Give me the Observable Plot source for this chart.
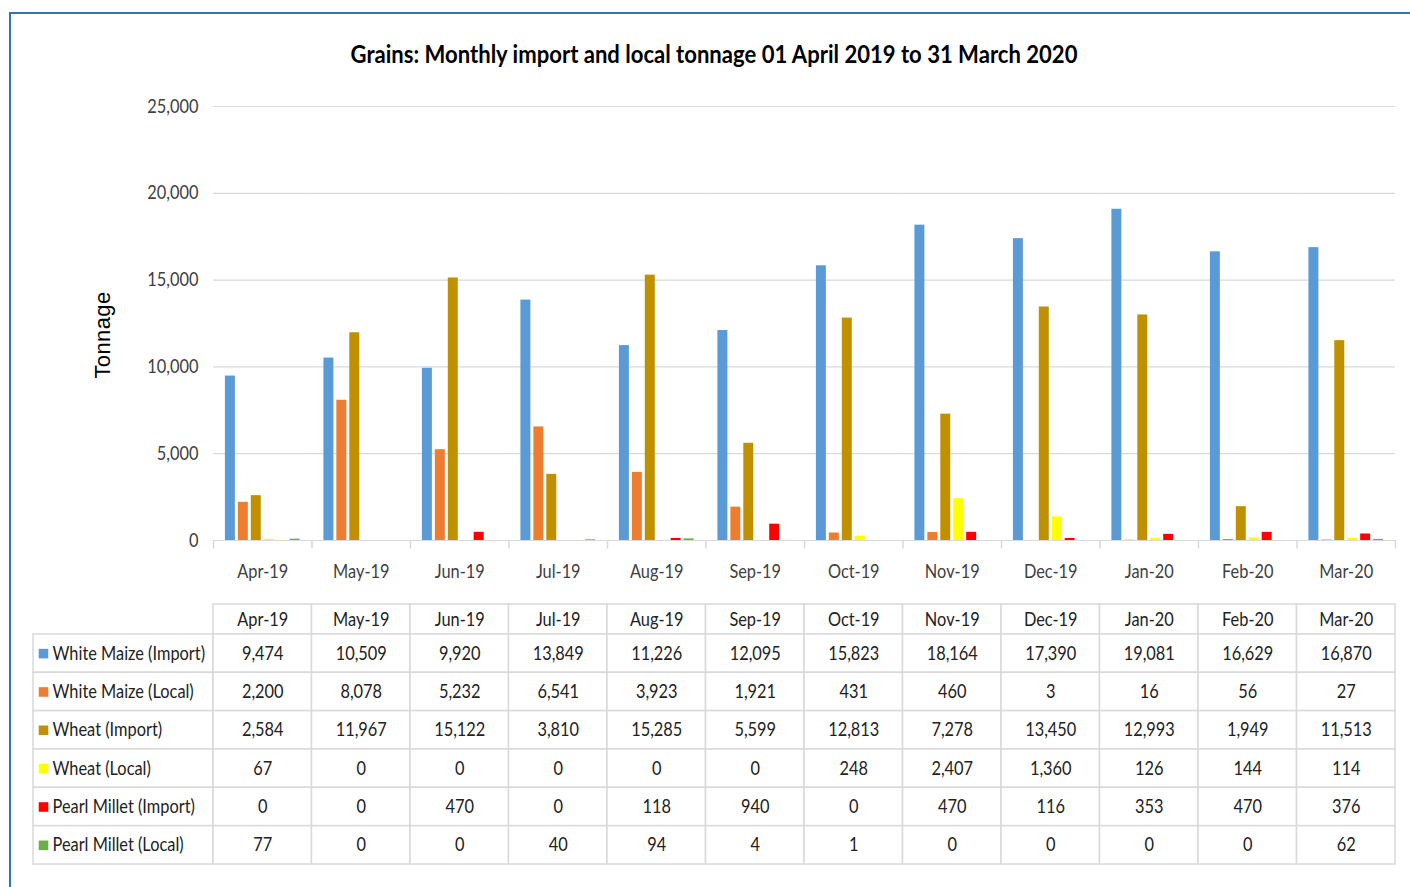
<!DOCTYPE html>
<html>
<head>
<meta charset="utf-8">
<script src="https://cdn.jsdelivr.net/npm/d3@7"></script>
<script src="https://cdn.jsdelivr.net/npm/@observablehq/plot@0.6"></script>
<style>
  html, body { margin: 0; padding: 0; background: #fff; }
  #page { position: relative; width: 1410px; height: 887px; overflow: hidden; background: #fff;
    font-family: Lato, "Open Sans", sans-serif; }
  #frame { position: absolute; left: 9px; top: 12px; width: 1500px; height: 1000px;
    border-left: 2px solid #2e75b6; border-top: 2px solid #2e75b6; }
  #title { position: absolute; left: 714px; top: 38px; transform-origin: 50% 50%;
    font-size: 25px; font-weight: bold; color: #000; white-space: nowrap; line-height: 30px; }
  #ylabel { position: absolute; left: 103px; top: 335px; transform: translate(-50%, -50%) rotate(-90deg);
    font-family: "Liberation Sans", sans-serif; font-size: 22px; color: #000; white-space: nowrap; letter-spacing: 0.4px; }
  .probe { position: absolute; left: 0; top: 0; visibility: hidden; white-space: nowrap;
    font-family: Lato, "Open Sans", sans-serif; font-size: 19px; }
  #page svg { position: absolute; left: 0; }
</style>
</head>
<body>
<div id="page">
  <div id="frame"></div>
  <div id="title">Grains: Monthly import and local tonnage 01 April 2019 to 31 March 2020</div>
  <div id="ylabel">Tonnage</div>
  <span class="probe" id="probe1">White Maize (Import)</span>
  <span class="probe" id="probe2">25,000</span>
</div>
<script>
const months = ["Apr-19","May-19","Jun-19","Jul-19","Aug-19","Sep-19","Oct-19","Nov-19","Dec-19","Jan-20","Feb-20","Mar-20"];
const seriesNames = ["White Maize (Import)","White Maize (Local)","Wheat (Import)","Wheat (Local)","Pearl Millet (Import)","Pearl Millet (Local)"];
const seriesColors = ["#5b9bd5","#ed7d31","#bf9000","#ffff00","#ff0000","#70ad47"];
const whiteMaizeImport = [9474,10509,9920,13849,11226,12095,15823,18164,17390,19081,16629,16870];
const whiteMaizeLocal  = [2200,8078,5232,6541,3923,1921,431,460,3,16,56,27];
const wheatImport      = [2584,11967,15122,3810,15285,5599,12813,7278,13450,12993,1949,11513];
const wheatLocal       = [67,0,0,0,0,0,248,2407,1360,126,144,114];
const pearlMilletImport= [0,0,470,0,118,940,0,470,116,353,470,376];
const pearlMilletLocal = [77,0,0,40,94,4,1,0,0,0,0,62];
const yTicks = [0,5000,10000,15000,20000,25000];

const seriesValues = [whiteMaizeImport, whiteMaizeLocal, wheatImport, wheatLocal, pearlMilletImport, pearlMilletLocal];
const rows = [];
seriesNames.forEach((s, si) => months.forEach((m, mi) => rows.push({series: s, si, month: m, mi, value: seriesValues[si][mi]})));

const FONT = 'Lato, "Open Sans", sans-serif';
const FS = 19;
const GRID = "#d9d9d9";
const page = document.getElementById("page");

// horizontal condensing so the text matches the narrow original face
const w1 = document.getElementById("probe1").getBoundingClientRect().width;
const w2 = document.getElementById("probe2").getBoundingClientRect().width;
let K = (156 / w1 + 50 / w2) / 2;
if (!isFinite(K) || K <= 0.5 || K > 1.5) K = 0.85;
function condense(svg, k) {
  svg.querySelectorAll("text").forEach(t => {
    const len = t.getComputedTextLength();
    if (len > 0) {
      t.setAttribute("textLength", (len * k).toFixed(2));
      t.setAttribute("lengthAdjust", "spacingAndGlyphs");
    }
  });
}

// Chart
const chart = Plot.plot({
  width: 1410, height: 548,
  marginLeft: 213, marginRight: 15, marginTop: 106, marginBottom: 8,
  style: {fontFamily: FONT, fontSize: FS + "px", color: "#404040", background: "transparent", overflow: "visible"},
  fx: {domain: months, paddingInner: 0, paddingOuter: 0, axis: null, round: false},
  x: {domain: seriesNames, paddingInner: 0.23, paddingOuter: 0.92, axis: null, round: false},
  y: {domain: [0, 25000], ticks: yTicks, tickFormat: d3.format(","), tickSize: 0, tickPadding: 15, label: null},
  color: {domain: seriesNames, range: seriesColors},
  marks: [
    Plot.gridY(yTicks, {stroke: GRID, strokeOpacity: 1, strokeWidth: 1.2}),
    Plot.barY(rows, {fx: "month", x: "series", y: "value", fill: "series"})
  ]
});
chart.style.top = "0px";
page.appendChild(chart);
condense(chart, K);

// Axis labels + data table, on a shared horizontal layout with the chart
const xLeft = -180 / (1182 / 12);
const table = Plot.plot({
  width: 1410, height: 347,
  marginLeft: 33, marginRight: 15, marginTop: 0, marginBottom: 23,
  style: {fontFamily: FONT, fontSize: FS + "px", color: "#222", background: "transparent", overflow: "visible"},
  x: {domain: [xLeft, 12], axis: null},
  y: {domain: [-2.45, 6], range: [0, 324], axis: null},
  marks: [
    Plot.ruleX(d3.range(months.length + 1), {x: d => d, y1: -2.45, y2: -2.23, stroke: GRID, strokeWidth: 1.5}),
    Plot.text(months, {x: (d, i) => i + 0.5, y: -1.64, text: d => d, fill: "#404040"}),
    Plot.rect(months, {x1: (d, i) => i, x2: (d, i) => i + 1, y1: -0.78, y2: 0, fill: "white", stroke: GRID, strokeWidth: 1.5}),
    Plot.rect(seriesNames, {x1: xLeft, x2: 0, y1: (d, i) => i, y2: (d, i) => i + 1, fill: "white", stroke: GRID, strokeWidth: 1.5}),
    Plot.rect(rows, {x1: "mi", x2: d => d.mi + 1, y1: "si", y2: d => d.si + 1, fill: "white", stroke: GRID, strokeWidth: 1.5}),
    Plot.text(months, {x: (d, i) => i + 0.5, y: -0.39, text: d => d}),
    Plot.text(rows, {x: d => d.mi + 0.5, y: d => d.si + 0.5, text: d => d3.format(",")(d.value)}),
    Plot.dot(seriesNames, {x: xLeft, dx: 10, y: (d, i) => i + 0.5, symbol: "square", r: 5.4, fill: (d, i) => seriesColors[i], stroke: null}),
    Plot.text(seriesNames, {x: xLeft, dx: 19, y: (d, i) => i + 0.5, text: d => d, textAnchor: "start"})
  ]
});
table.style.top = "540px";
page.appendChild(table);
condense(table, K);

// Title: condensed to the original's width
const title = document.getElementById("title");
const tw = title.getBoundingClientRect().width;
title.style.transform = `translateX(-50%) scaleX(${(727 / tw).toFixed(4)})`;
</script>
</body>
</html>
